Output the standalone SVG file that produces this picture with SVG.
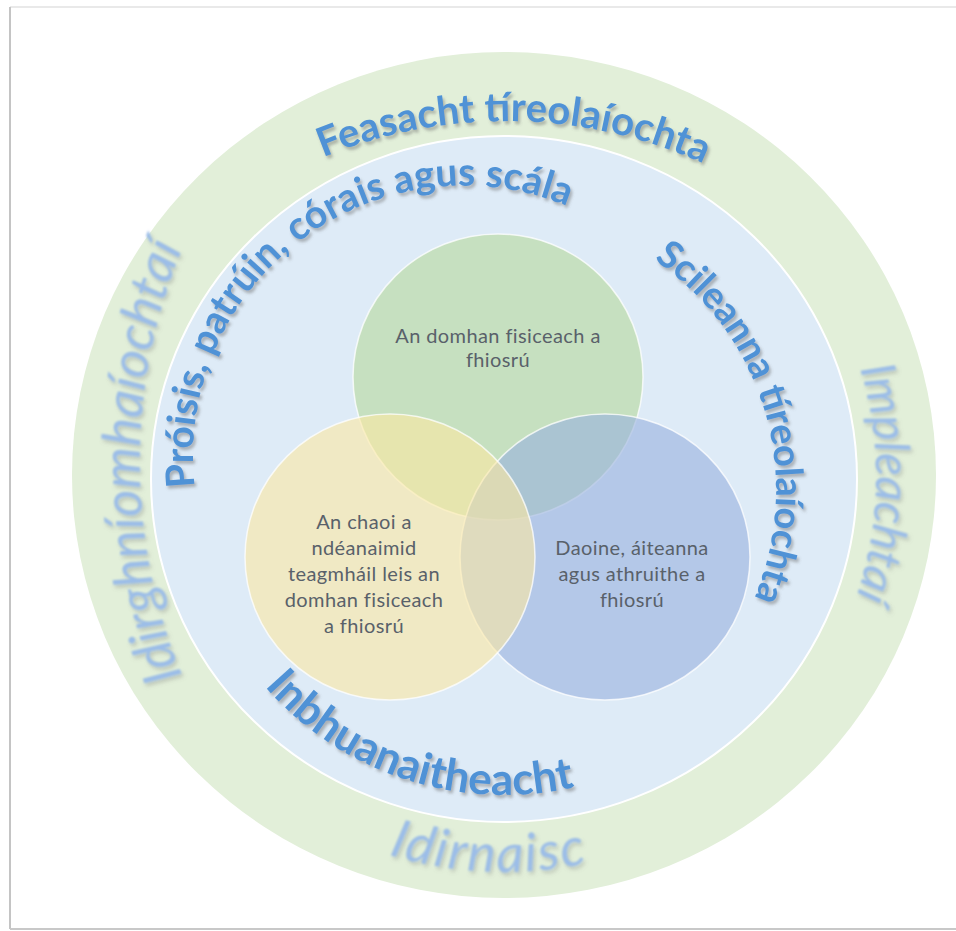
<svg xmlns="http://www.w3.org/2000/svg" width="956" height="931" viewBox="0 0 956 931">
  <style>
    .ring { font-family: Lato, "Open Sans", "Liberation Sans", sans-serif; font-weight: bold; fill: #4f92d6; }
    .outer { font-family: Lato, "Open Sans", "Liberation Sans", sans-serif; font-style: italic; fill: #9bbde8; }
    .lbl { font-family: Lato, "Open Sans", "Liberation Sans", sans-serif; font-size: 20px; letter-spacing: 0.4px; fill: #59616a; text-anchor: middle; }
    .venn { stroke: #ffffff; stroke-opacity: 0.75; stroke-width: 1.5; fill-opacity: 0.6; }
  </style>
  <defs>
    <filter id="sh" x="-10%" y="-10%" width="125%" height="125%">
      <feGaussianBlur in="SourceAlpha" stdDeviation="1.6"/>
      <feOffset dx="1.5" dy="2.5" result="b"/>
      <feFlood flood-color="#666666" flood-opacity="0.45"/>
      <feComposite in2="b" operator="in"/>
      <feMerge><feMergeNode/><feMergeNode in="SourceGraphic"/></feMerge>
    </filter>
    <filter id="soft" x="-10%" y="-10%" width="125%" height="125%">
      <feGaussianBlur in="SourceAlpha" stdDeviation="2"/>
      <feOffset dx="2" dy="3" result="b"/>
      <feFlood flood-color="#777777" flood-opacity="0.35"/>
      <feComposite in2="b" operator="in" result="s"/>
      <feGaussianBlur in="SourceGraphic" stdDeviation="0.8" result="g"/>
      <feMerge><feMergeNode in="s"/><feMergeNode in="g"/></feMerge>
    </filter>
    <path id="p-feas" d="M 145.1 284.8 A 480 480 0 0 1 877.2 296.6"/>
    <path id="p-proi" d="M 245.6 617.1 A 271 271 0 0 1 678.4 290.9"/>
    <path id="p-scil" d="M 515 212.5 A 278 278 0 0 1 663.4 713.5"/>
    <path id="p-inbh" d="M 205.2 585.8 A 318 318 0 0 0 681.8 740.6"/>
    <path id="p-idirg" d="M 271 822 A 560 560 0 0 1 271 102"/>
    <path id="p-impl" d="M 637.3 129.6 A 372 372 0 0 1 625.1 828.7"/>
    <path id="p-idirn" d="M 201.4 730.9 A 395 395 0 0 0 785.2 754.4"/>
  </defs>

  <rect width="956" height="931" fill="#ffffff"/>
  <g id="frame" fill="none">
    <line x1="10" y1="7" x2="956" y2="7" stroke="#e2e2e2" stroke-width="1.5"/>
    <line x1="10" y1="7" x2="10" y2="929" stroke="#c4c4c4" stroke-width="2"/>
    <line x1="10" y1="929" x2="956" y2="929" stroke="#c8c8c8" stroke-width="2"/>
  </g>

  <g id="ring-outer">
    <ellipse cx="504" cy="475" rx="432" ry="423" fill="#e2efd9"/>
  </g>
  <g id="ring-inner">
    <ellipse cx="504" cy="479" rx="353" ry="343" fill="#deebf7" stroke="#ffffff" stroke-width="2"/>
  </g>

  <g id="venn-green">
    <ellipse class="venn" cx="498" cy="377" rx="145" ry="143" fill="rgb(182,217,155)"/>
  </g>
  <g id="venn-blue">
    <ellipse class="venn" cx="605" cy="557" rx="145" ry="143" fill="rgb(152,177,222)"/>
  </g>
  <g id="venn-yellow">
    <ellipse class="venn" cx="390" cy="557" rx="145" ry="143" fill="rgb(252,232,162)"/>
  </g>

  <g id="label-green">
    <text class="lbl" x="498" y="343">An domhan fisiceach a</text>
    <text class="lbl" x="498" y="367">fhiosrú</text>
  </g>
  <g id="label-yellow">
    <text class="lbl" x="364" y="529">An chaoi a</text>
    <text class="lbl" x="364" y="555">ndéanaimid</text>
    <text class="lbl" x="364" y="581">teagmháil leis an</text>
    <text class="lbl" x="364" y="607">domhan fisiceach</text>
    <text class="lbl" x="364" y="633">a fhiosrú</text>
  </g>
  <g id="label-blue">
    <text class="lbl" x="632" y="555">Daoine, áiteanna</text>
    <text class="lbl" x="632" y="581">agus athruithe a</text>
    <text class="lbl" x="632" y="607">fhiosrú</text>
  </g>

  <g id="ring-labels" filter="url(#sh)">
    <text class="ring" font-size="40"><textPath href="#p-feas" startOffset="50%" text-anchor="middle">Feasacht tíreolaíochta</textPath></text>
    <text class="ring" font-size="39"><textPath href="#p-proi" startOffset="50%" text-anchor="middle">Próisis, patrúin, córais agus scála</textPath></text>
    <text class="ring" font-size="38"><textPath href="#p-scil" startOffset="50%" text-anchor="middle">Scileanna tíreolaíochta</textPath></text>
    <text class="ring" font-size="44"><textPath href="#p-inbh" startOffset="50%" text-anchor="middle">Inbhuanaitheacht</textPath></text>
  </g>
  <g id="outer-labels" filter="url(#soft)">
    <text class="outer" font-size="53"><textPath href="#p-idirg" startOffset="50%" text-anchor="middle">Idirghníomhaíochtaí</textPath></text>
    <text class="outer" font-size="48"><textPath href="#p-impl" startOffset="50%" text-anchor="middle">Impleachtaí</textPath></text>
    <text class="outer" font-size="53" letter-spacing="2"><textPath href="#p-idirn" startOffset="50%" text-anchor="middle">Idirnaisc</textPath></text>
  </g>
</svg>
